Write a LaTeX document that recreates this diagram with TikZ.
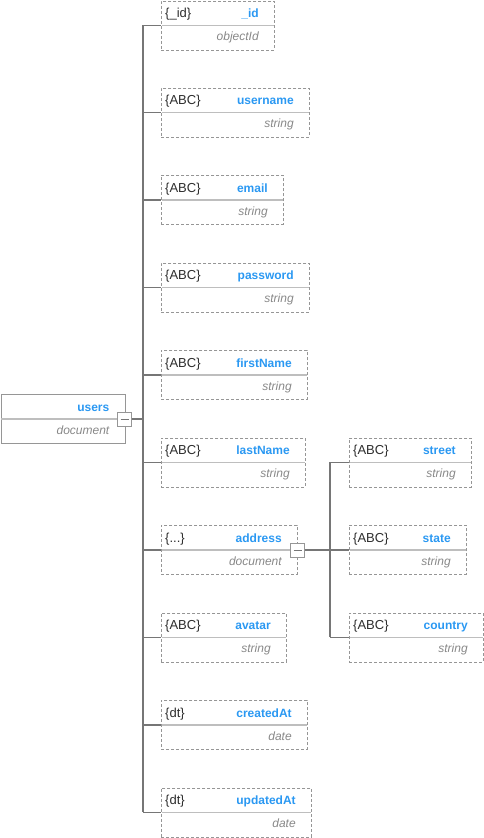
\documentclass[tikz,border=0pt]{standalone}
\usepackage{fontspec}
\setmainfont{Liberation Sans}
\definecolor{namecol}{RGB}{42,152,242}
\definecolor{tagcol}{RGB}{45,45,45}
\definecolor{typecol}{RGB}{136,136,136}
\definecolor{bordcol}{RGB}{150,150,150}
\definecolor{divcol}{RGB}{190,190,190}
\definecolor{linecol}{RGB}{118,118,118}
\tikzset{
  fbox/.style={draw=bordcol, dash pattern=on 3pt off 2pt, line width=0.9pt, minimum height=49pt, inner sep=0pt, anchor=north west},
  docbox/.style={draw=bordcol, line width=1pt, minimum height=49pt, inner sep=0pt, anchor=north west},
  divline/.style={draw=divcol, line width=1.2pt},
  tagtext/.style={text=tagcol, inner sep=0pt, font=\fontsize{13}{15}\selectfont, anchor=base west},
  nametext/.style={text=namecol, inner sep=0pt, font=\fontsize{12}{14}\selectfont\bfseries, anchor=base east},
  typetext/.style={text=typecol, inner sep=0pt, font=\fontsize{12}{14}\selectfont\itshape, anchor=base east},
  conn/.style={draw=linecol, line width=1.4pt},
  togglebtn/.style={draw=bordcol, fill=white, line width=1pt, minimum width=14pt, minimum height=14pt, inner sep=0pt},
}
% #1 name, #2 x, #3 y (top), #4 width, #5 tag, #6 label, #7 type
\newcommand{\fieldbox}[7]{%
  \node[fbox, minimum width=#4pt] (#1) at (#2,#3) {};
  \draw[divline] ([xshift=0.5pt]#1.west) -- ([xshift=-0.5pt]#1.east);
  \node[tagtext] (#1-tag) at ([xshift=4pt,yshift=7.8pt]#1.west) {#5};
  \node[nametext] (#1-name) at ([xshift=-16pt,yshift=7.8pt]#1.east) {#6};
  \node[typetext] (#1-type) at ([xshift=-16pt,yshift=-15.5pt]#1.east) {#7};
}
\begin{document}
\begin{tikzpicture}[x=1pt,y=-1pt]
\useasboundingbox (0,0) rectangle (484,838);
% root
\node[docbox, minimum width=124pt] (users) at (0.5,394) {};
\draw[divline] ([xshift=0.5pt]users.west) -- ([xshift=-0.5pt]users.east);
\node[nametext] (users-name) at ([xshift=-16pt,yshift=7.8pt]users.east) {users};
\node[typetext] (users-type) at ([xshift=-16pt,yshift=-15.5pt]users.east) {document};
% fields
\fieldbox{id}{161}{0.5}{113}{\{\_id\}}{\_id}{objectId}
\fieldbox{username}{161}{87.5}{148}{\{ABC\}}{username}{string}
\fieldbox{email}{161}{175}{122}{\{ABC\}}{email}{string}
\fieldbox{password}{161}{262.5}{148}{\{ABC\}}{password}{string}
\fieldbox{firstName}{161}{350}{146}{\{ABC\}}{firstName}{string}
\fieldbox{lastName}{161}{437.5}{144}{\{ABC\}}{lastName}{string}
\fieldbox{address}{161}{525}{136}{\{...\}}{address}{document}
\fieldbox{avatar}{161}{612.5}{125}{\{ABC\}}{avatar}{string}
\fieldbox{createdAt}{161}{700}{146}{\{dt\}}{createdAt}{date}
\fieldbox{updatedAt}{161}{787.5}{150}{\{dt\}}{updatedAt}{date}
% sub fields
\fieldbox{street}{349}{437.5}{122}{\{ABC\}}{street}{string}
\fieldbox{state}{349}{525}{117}{\{ABC\}}{state}{string}
\fieldbox{country}{349}{612.5}{134}{\{ABC\}}{country}{string}
% toggle buttons
\node[togglebtn] (usersbtn) at (124.5,419) {};
\draw[draw=linecol, line width=1pt] ([xshift=-4pt]usersbtn.center) -- ([xshift=4pt]usersbtn.center);
\node[togglebtn] (addrbtn) at (297.5,550) {};
\draw[draw=linecol, line width=1pt] ([xshift=-4pt]addrbtn.center) -- ([xshift=4pt]addrbtn.center);
% main trunk
\coordinate (trunk) at (143,419);
\draw[conn] (usersbtn.east) -- (trunk);
\draw[conn] (trunk |- id.west) -- (trunk |- updatedAt.west);
\foreach \f in {id,username,email,password,firstName,lastName,address,avatar,createdAt,updatedAt}{
  \draw[conn] (trunk |- \f.west) -- (\f.west);
}
% address trunk
\coordinate (subtrunk) at (330,550);
\draw[conn] (addrbtn.east) -- (subtrunk);
\draw[conn] (subtrunk |- street.west) -- (subtrunk |- country.west);
\foreach \f in {street,state,country}{
  \draw[conn] (subtrunk |- \f.west) -- (\f.west);
}
\end{tikzpicture}
\end{document}
